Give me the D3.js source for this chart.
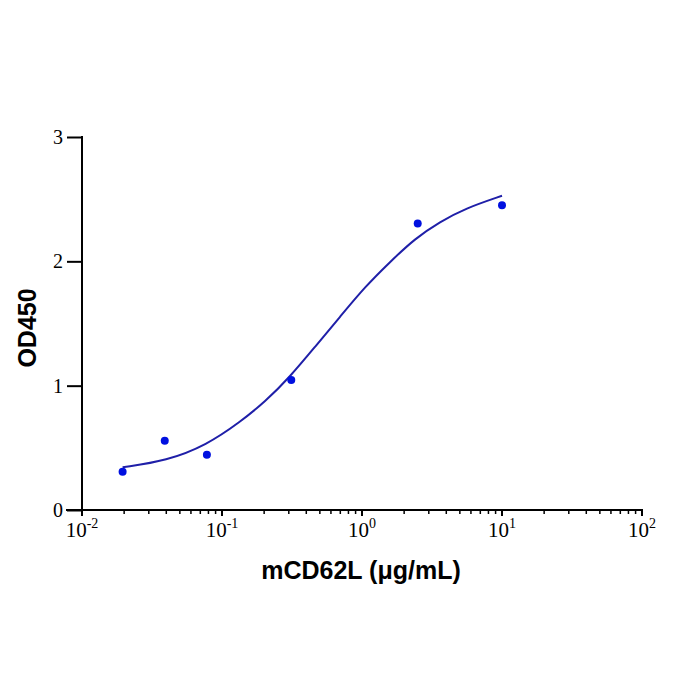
<!DOCTYPE html>
<html>
<head>
<meta charset="utf-8">
<script src="https://cdn.jsdelivr.net/npm/d3@7"></script>
<style>
  body { margin: 0; background: #fff; }
</style>
</head>
<body>
<div id="chart"></div>
<script>
// measured points
var conc = [0.0195, 0.039, 0.078, 0.3125, 2.5, 10];
var od = [0.308, 0.557, 0.445, 1.045, 2.304, 2.452];

// fitted curve
var curveX = [0.0195, 0.0403, 0.0778, 0.1345, 0.203, 0.306, 0.462, 0.697, 1.05, 1.585, 2.39, 3.61, 5.44, 10];
var curveY = [0.343, 0.396, 0.523, 0.707, 0.870, 1.071, 1.313, 1.554, 1.795, 1.995, 2.184, 2.318, 2.425, 2.527];

var yTicks = [0, 1, 2, 3];
var xExp = [-2, -1, 0, 1, 2];

var serif = "'Liberation Serif', 'DejaVu Serif', 'Times New Roman', serif";
var sans = "'Liberation Sans', Arial, sans-serif";

var width = 700, height = 700;
var svg = d3.select("#chart").append("svg")
  .attr("width", width)
  .attr("height", height);

var x = d3.scaleLog().domain([0.01, 100]).range([82, 642]);
var y = d3.scaleLinear().domain([0, 3]).range([510, 137]);

// y axis
var yAxis = svg.append("g")
  .attr("transform", "translate(82,0)")
  .call(d3.axisLeft(y).tickValues(yTicks).tickFormat(d3.format("d")).tickSize(15).tickPadding(4));
yAxis.attr("font-family", serif).attr("font-size", 20);
yAxis.select(".domain").remove();
yAxis.selectAll("line").attr("stroke", "#000").attr("stroke-width", 2);
yAxis.selectAll("text").attr("fill", "#000");

svg.append("line")
  .attr("x1", 82).attr("x2", 82)
  .attr("y1", y(3) - 1).attr("y2", y(0) + 5)
  .attr("stroke", "#000").attr("stroke-width", 2);

// x axis
svg.append("line")
  .attr("x1", 66).attr("x2", x(100) + 1)
  .attr("y1", 510).attr("y2", 510)
  .attr("stroke", "#000").attr("stroke-width", 2);

var minor = [];
xExp.slice(0, -1).forEach(function(e) {
  for (var k = 2; k <= 9; k++) minor.push(k * Math.pow(10, e));
});

svg.append("g").selectAll("line.minor")
  .data(minor).enter().append("line")
  .attr("x1", function(d) { return x(d); })
  .attr("x2", function(d) { return x(d); })
  .attr("y1", 510).attr("y2", 514)
  .attr("stroke", "#000").attr("stroke-width", 1.5);

svg.append("g").selectAll("line.major")
  .data(xExp).enter().append("line")
  .attr("x1", function(d) { return x(Math.pow(10, d)); })
  .attr("x2", function(d) { return x(Math.pow(10, d)); })
  .attr("y1", 510).attr("y2", 516)
  .attr("stroke", "#000").attr("stroke-width", 2);

var xLab = svg.append("g")
  .attr("font-family", serif)
  .attr("font-size", 21)
  .selectAll("text")
  .data(xExp).enter().append("text")
  .attr("x", function(d) { return x(Math.pow(10, d)); })
  .attr("y", 537)
  .attr("text-anchor", "middle");
xLab.append("tspan").text("10");
xLab.append("tspan")
  .attr("dy", -9)
  .attr("font-size", 14)
  .text(function(d) { return d < 0 ? "-" + (-d) : d; });

// curve
var line = d3.line()
  .x(function(d) { return x(d[0]); })
  .y(function(d) { return y(d[1]); })
  .curve(d3.curveBasis);

svg.append("path")
  .datum(d3.zip(curveX, curveY))
  .attr("d", line)
  .attr("fill", "none")
  .attr("stroke", "#1f1fa8")
  .attr("stroke-width", 2);

// points
svg.append("g").selectAll("circle")
  .data(d3.zip(conc, od)).enter().append("circle")
  .attr("cx", function(d) { return x(d[0]); })
  .attr("cy", function(d) { return y(d[1]); })
  .attr("r", 4)
  .attr("fill", "#0010e0");

// axis titles
svg.append("text")
  .attr("x", 361)
  .attr("y", 579)
  .attr("text-anchor", "middle")
  .attr("font-family", sans)
  .attr("font-weight", "bold")
  .attr("font-size", 25)
  .text("mCD62L (μg/mL)");

svg.append("text")
  .attr("transform", "translate(36,328) rotate(-90)")
  .attr("text-anchor", "middle")
  .attr("font-family", sans)
  .attr("font-weight", "bold")
  .attr("font-size", 25)
  .text("OD450");
</script>
</body>
</html>
